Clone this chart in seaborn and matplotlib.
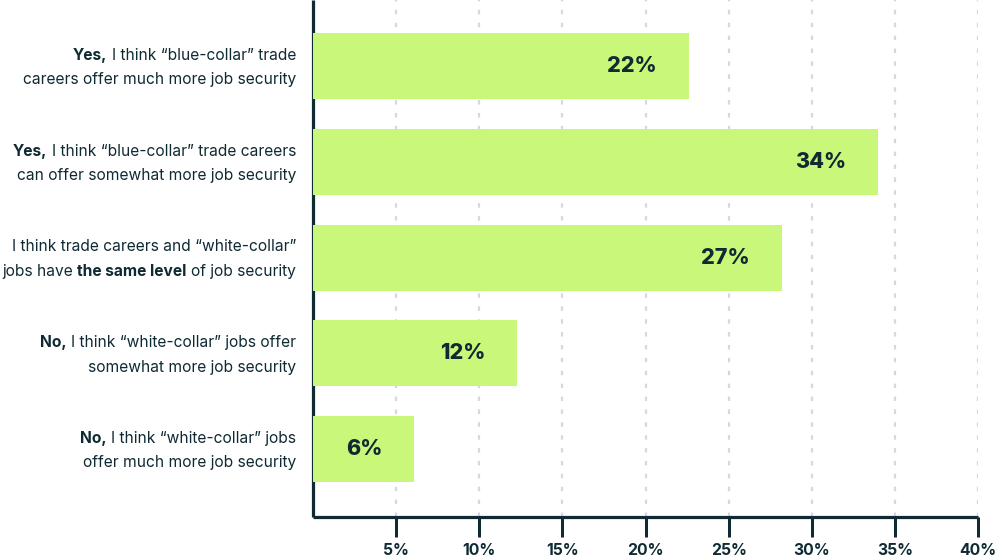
import re
import matplotlib
matplotlib.use("Agg")
import matplotlib.pyplot as plt
from matplotlib.transforms import IdentityTransform
import seaborn as sns
import pandas as pd

# ---------------- data ----------------
categories = [
    "**Yes,** I think “blue-collar” trade\ncareers offer much more job security",
    "**Yes,** I think “blue-collar” trade careers\ncan offer somewhat more job security",
    "I think trade careers and “white-collar”\njobs have **the same level** of job security",
    "**No,** I think “white-collar” jobs offer\nsomewhat more job security",
    "**No,** I think “white-collar” jobs\noffer much more job security",
]
values = [22.6, 34.0, 28.2, 12.3, 6.1]
value_labels = ["22%", "34%", "27%", "12%", "6%"]
x_ticks = [5, 10, 15, 20, 25, 30, 35, 40]
x_tick_labels = ["5%", "10%", "15%", "20%", "25%", "30%", "35%", "40%"]

# ---------------- style ----------------
sns.set_theme(style="white")
FONT = ["Inter", "DejaVu Sans"]
plt.rcParams["font.family"] = FONT
DARK = "#0f2a33"
GREEN = "#c9f77a"
GRID = "#d5d9db"
PX = 0.72  # points per pixel at dpi 100

fig = plt.figure(figsize=(10, 5.6), dpi=100)
ax = fig.add_axes([0.313, (560 - 517) / 560, 0.665, 517 / 560])

df = pd.DataFrame({"cat": [str(i) for i in range(len(categories))], "val": values})
sns.barplot(data=df, y="cat", x="val", orient="h", color=GREEN, width=0.69,
            saturation=1, ax=ax, zorder=3)
for p in ax.patches:
    p.set_edgecolor("none")

ax.set_xlim(0, 40)
ax.set_ylim(4.71, -0.69)
ax.set_xlabel("")
ax.set_ylabel("")
ax.set_yticks([])

# grid
for t in x_ticks:
    ax.axvline(t, color=GRID, lw=1.6, ls=(0, (2.0, 3.8)), zorder=1)

ax.set_xticks(x_ticks)
ax.set_xticklabels(x_tick_labels, fontsize=11.3, fontweight="bold", color=DARK)
ax.tick_params(axis="x", bottom=True, length=20 * PX, width=3 * PX, color=DARK,
               pad=6 * PX, direction="out")

for s in ["top", "right"]:
    ax.spines[s].set_visible(False)
for s in ["left", "bottom"]:
    ax.spines[s].set_color(DARK)
    ax.spines[s].set_linewidth(3.2 * PX)
    ax.spines[s].set_capstyle("butt")

# value labels
for i, (v, lab) in enumerate(zip(values, value_labels)):
    ax.annotate(lab, xy=(v, i), xytext=(-32, 0), textcoords="offset pixels",
                ha="right", va="center", fontsize=15.5, fontweight="heavy",
                color=DARK, zorder=5)

# category labels with partial bold, right aligned
fig.canvas.draw()
renderer = fig.canvas.get_renderer()
FS = 11.2
RIGHT_PX = 296
LINE_GAP = 24.5


def measure(txt, bold):
    t = fig.text(0, 0, txt, fontsize=FS, fontweight="bold" if bold else "normal",
                 transform=IdentityTransform(), family=FONT)
    w = t.get_window_extent(renderer).width
    t.remove()
    return w


space_w = measure("a a", False) - measure("aa", False)

for i, cat in enumerate(categories):
    _, yc = ax.transData.transform((0, i))
    lines = cat.split("\n")
    n = len(lines)
    for li, line in enumerate(lines):
        ymid = yc + ((n - 1) / 2 - li) * LINE_GAP
        parts = re.split(r"(\*\*.*?\*\*)", line)
        segs = []
        for p in parts:
            if not p:
                continue
            bold = p.startswith("**")
            txt = p.strip("*") if bold else p
            lead = txt.startswith(" ")
            trail = txt.endswith(" ")
            segs.append((txt.strip(), bold, lead, trail))
        total = 0
        widths = []
        for txt, bold, lead, trail in segs:
            w = measure(txt, bold)
            widths.append(w)
            total += w + (space_w if lead else 0) + (space_w if trail else 0)
        x = RIGHT_PX - total
        for (txt, bold, lead, trail), w in zip(segs, widths):
            if lead:
                x += space_w
            fig.text(x, ymid, txt, fontsize=FS, fontweight="bold" if bold else "normal",
                     color=DARK, ha="left", va="center_baseline",
                     transform=IdentityTransform(), family=FONT)
            x += w
            if trail:
                x += space_w

fig.savefig("out.png", dpi=100, facecolor="white")
